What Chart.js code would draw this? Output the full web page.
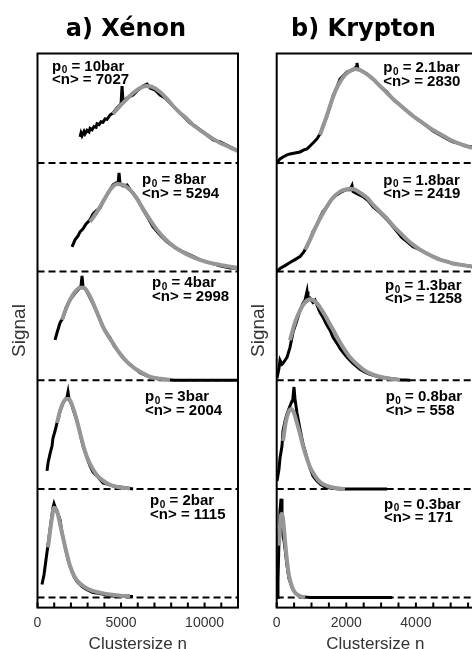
<!DOCTYPE html>
<html><head><meta charset="utf-8">
<script src="https://cdn.jsdelivr.net/npm/chart.js@4.4.1/dist/chart.umd.min.js"></script>
<style>
html,body{margin:0;padding:0;background:#fff;overflow:hidden;width:472px;height:649px;}
#wrap{position:relative;width:472px;height:649px;overflow:hidden;background:#fff;}
canvas{position:absolute;top:0;}
#cXe{left:0;} #cKr{left:240px;}
</style></head><body><div id="wrap"><canvas id="cXe" width="252" height="660"></canvas><canvas id="cKr" width="247" height="660"></canvas></div>
<script>
// ---------- categories / labels ----------
const xePressures = ['10bar', '8bar', '4bar', '3bar', '2bar'];
const xeMeans = [7027, 5294, 2998, 2004, 1115];
const krPressures = ['2.1bar', '1.8bar', '1.3bar', '0.8bar', '0.3bar'];
const krMeans = [2830, 2419, 1258, 558, 171];
const xeTickLabels = [0, 5000, 10000];
const krTickLabels = [0, 2000, 4000];
const xeTickMarks = [0, 1000, 2000, 3000, 4000, 5000, 6000, 7000, 8000, 9000, 10000, 11000, 12000];
const krTickMarks = [0, 500, 1000, 1500, 2000, 2500, 3000, 3500, 4000, 4500, 5000, 5500];

// ---------- Xenon series: [clustersize n, signal] ----------
const xe10Raw = [[2545,0.239],[2605,0.275],[2665,0.250],[2784,0.290],[2844,0.268],[2964,0.300],[3084,0.285],[3144,0.318],[3263,0.305],[3383,0.335],[3503,0.328],[3563,0.360],[3683,0.352],[3803,0.380],[3922,0.375],[4042,0.405],[4162,0.402],[4341,0.441],[4521,0.460],[4760,0.506],[5000,0.543],[5060,0.708],[5120,0.561],[5359,0.598],[5719,0.625],[6018,0.671],[6317,0.708],[6557,0.726],[6737,0.690],[7036,0.671],[7335,0.625],[7635,0.598],[7934,0.552],[8234,0.506],[8533,0.460],[8832,0.414],[9132,0.368],[9431,0.340],[9731,0.303],[10150,0.257],[10509,0.211],[10928,0.193],[11287,0.166],[11647,0.138],[12000,0.110]];
const xe10Fit = [[4521,0.451],[4940,0.524],[5359,0.589],[5719,0.644],[6138,0.690],[6497,0.708],[6856,0.699],[7335,0.653],[7754,0.589],[8114,0.524],[8533,0.460],[8952,0.405],[9311,0.349],[9731,0.303],[10150,0.257],[10509,0.221],[10928,0.184],[11347,0.156],[11707,0.129],[12000,0.110]];
const xe8Raw = [[2066,0.228],[2246,0.292],[2425,0.329],[2545,0.366],[2725,0.393],[2904,0.439],[3144,0.476],[3323,0.531],[3503,0.559],[3743,0.586],[3982,0.660],[4162,0.706],[4341,0.752],[4521,0.798],[4701,0.816],[4820,0.807],[4880,0.908],[4940,0.807],[5120,0.789],[5359,0.798],[5539,0.752],[5719,0.724],[6018,0.660],[6317,0.568],[6617,0.494],[6916,0.412],[7335,0.338],[7754,0.274],[8234,0.219],[8713,0.182],[9251,0.145],[9731,0.108],[10329,0.080],[10928,0.053],[11527,0.034],[12000,0.034]];
const xe8Fit = [[3144,0.457],[3563,0.549],[3982,0.660],[4341,0.752],[4760,0.807],[5120,0.798],[5539,0.752],[5958,0.669],[6317,0.577],[6737,0.476],[7156,0.384],[7635,0.301],[8114,0.237],[8653,0.182],[9132,0.145],[9731,0.108],[10329,0.080],[10928,0.062],[11527,0.044],[12000,0.034]];
const xe4Raw = [[1048,0.372],[1168,0.437],[1347,0.529],[1527,0.575],[1707,0.667],[1946,0.740],[2126,0.777],[2305,0.814],[2485,0.841],[2605,0.869],[2665,0.961],[2725,0.860],[2904,0.832],[3144,0.759],[3383,0.685],[3563,0.621],[3743,0.556],[3922,0.492],[4162,0.428],[4341,0.391],[4581,0.317],[4760,0.280],[5060,0.216],[5359,0.170],[5719,0.124],[6138,0.069],[6557,0.041],[6916,0.023],[7335,0.009],[8234,0],[9731,0],[12000,0]];
const xe4Fit = [[1467,0.556],[1707,0.657],[1946,0.740],[2246,0.814],[2545,0.851],[2784,0.851],[3024,0.805],[3323,0.713],[3623,0.602],[3922,0.492],[4222,0.409],[4581,0.326],[4940,0.244],[5359,0.170],[5778,0.115],[6257,0.069],[6737,0.032],[7335,0.014],[7934,0.005]];
const xe3Raw = [[569,0.166],[629,0.239],[749,0.322],[868,0.395],[928,0.469],[1048,0.533],[1168,0.607],[1287,0.671],[1347,0.717],[1467,0.763],[1527,0.791],[1647,0.818],[1766,0.846],[1826,0.892],[1886,0.828],[1946,0.809],[2066,0.772],[2126,0.736],[2246,0.680],[2365,0.625],[2545,0.515],[2725,0.395],[2964,0.285],[3144,0.212],[3323,0.156],[3563,0.120],[3922,0.055],[4521,0.028],[5359,0.009],[5719,0]];
const xe3Fit = [[1168,0.607],[1347,0.717],[1527,0.791],[1707,0.828],[1886,0.828],[2066,0.772],[2246,0.690],[2425,0.589],[2605,0.478],[2784,0.377],[2964,0.294],[3204,0.212],[3503,0.138],[3862,0.083],[4341,0.037],[4940,0.014],[5539,0.005]];
const xe2Raw = [[269,0.120],[389,0.211],[509,0.349],[629,0.487],[749,0.625],[868,0.763],[928,0.828],[988,0.864],[1048,0.837],[1168,0.791],[1347,0.717],[1467,0.598],[1647,0.469],[1826,0.349],[1946,0.285],[2186,0.193],[2365,0.147],[2665,0.101],[2964,0.074],[3323,0.046],[3743,0.037],[4341,0.018],[4940,0.009],[5719,0.009]];
const xe2Fit = [[629,0.460],[749,0.607],[868,0.736],[988,0.828],[1108,0.818],[1228,0.763],[1347,0.680],[1527,0.552],[1707,0.432],[1946,0.294],[2186,0.202],[2425,0.147],[2784,0.101],[3263,0.064],[3743,0.046],[4341,0.028],[4940,0.018],[5539,0.014]];

// ---------- Krypton series ----------
const kr21Raw = [[0,0],[95,0.037],[181,0.055],[296,0.074],[382,0.083],[526,0.092],[670,0.101],[784,0.120],[871,0.129],[957,0.156],[1043,0.184],[1158,0.221],[1244,0.267],[1330,0.340],[1445,0.432],[1532,0.524],[1618,0.616],[1733,0.699],[1819,0.772],[1934,0.809],[2020,0.837],[2106,0.846],[2193,0.855],[2279,0.883],[2307,0.920],[2336,0.864],[2451,0.846],[2595,0.818],[2767,0.772],[2968,0.708],[3170,0.653],[3342,0.589],[3543,0.533],[3744,0.478],[3917,0.432],[4118,0.386],[4319,0.340],[4491,0.294],[4693,0.257],[4894,0.221],[5066,0.193],[5267,0.175],[5440,0.156],[5612,0.147]];
const kr21Fit = [[1244,0.257],[1388,0.386],[1532,0.524],[1675,0.653],[1819,0.745],[1963,0.809],[2106,0.846],[2250,0.864],[2394,0.855],[2595,0.818],[2767,0.772],[2968,0.708],[3170,0.644],[3342,0.589],[3543,0.533],[3744,0.478],[3917,0.432],[4118,0.386],[4319,0.340],[4491,0.303],[4693,0.267],[4894,0.230],[5066,0.202],[5267,0.175],[5440,0.156],[5612,0.138]];
const kr18Raw = [[0,0],[95,0.028],[239,0.055],[382,0.083],[526,0.110],[670,0.138],[784,0.184],[871,0.230],[957,0.294],[1043,0.368],[1158,0.432],[1244,0.497],[1330,0.552],[1445,0.598],[1532,0.644],[1618,0.680],[1733,0.708],[1819,0.726],[1934,0.745],[2020,0.754],[2106,0.754],[2164,0.791],[2193,0.736],[2307,0.717],[2480,0.690],[2624,0.653],[2767,0.598],[2968,0.543],[3170,0.478],[3313,0.423],[3457,0.368],[3601,0.313],[3744,0.276],[3917,0.230],[4118,0.202],[4319,0.166],[4491,0.138],[4693,0.110],[4894,0.092],[5066,0.074],[5267,0.064],[5440,0.055],[5612,0.046]];
const kr18Fit = [[813,0.202],[957,0.294],[1101,0.395],[1244,0.487],[1388,0.570],[1532,0.644],[1675,0.699],[1819,0.736],[1963,0.754],[2106,0.763],[2250,0.754],[2394,0.726],[2595,0.680],[2767,0.616],[2968,0.552],[3170,0.487],[3342,0.423],[3543,0.359],[3744,0.294],[3917,0.248],[4118,0.202],[4319,0.166],[4491,0.138],[4693,0.110],[4894,0.092],[5066,0.074],[5267,0.064],[5440,0.055],[5612,0.046]];
const kr13Raw = [[9,0.018],[66,0.110],[95,0.184],[152,0.147],[181,0.156],[239,0.184],[296,0.211],[382,0.303],[468,0.441],[583,0.552],[670,0.644],[756,0.708],[813,0.736],[871,0.818],[899,0.736],[957,0.754],[1043,0.717],[1101,0.736],[1158,0.690],[1244,0.625],[1330,0.579],[1445,0.506],[1532,0.460],[1618,0.395],[1733,0.340],[1819,0.294],[1905,0.257],[2020,0.211],[2193,0.156],[2394,0.101],[2537,0.074],[2681,0.055],[2968,0.028],[3342,0.014],[3543,0.005],[3830,0]];
const kr13Fit = [[382,0.368],[526,0.533],[670,0.644],[813,0.717],[957,0.745],[1101,0.726],[1244,0.671],[1388,0.598],[1532,0.515],[1675,0.432],[1819,0.349],[1963,0.276],[2106,0.211],[2307,0.147],[2480,0.101],[2681,0.064],[2968,0.032],[3256,0.014],[3543,0.005]];
const kr08Raw = [[9,0.074],[66,0.184],[95,0.285],[152,0.395],[181,0.533],[239,0.625],[296,0.690],[382,0.763],[440,0.809],[468,0.846],[497,0.938],[526,0.828],[583,0.699],[670,0.552],[756,0.414],[871,0.285],[957,0.193],[1043,0.120],[1158,0.074],[1244,0.046],[1388,0.018],[1532,0.009],[1819,0],[3170,0]];
const kr08Fit = [[181,0.441],[267,0.625],[353,0.717],[411,0.736],[497,0.699],[583,0.607],[670,0.506],[756,0.395],[871,0.276],[957,0.202],[1101,0.120],[1244,0.064],[1445,0.028],[1675,0.009],[1963,0]];
const kr03Raw = [[9,0],[37,0.156],[66,0.524],[95,0.800],[124,0.910],[152,0.708],[181,0.570],[210,0.524],[239,0.451],[296,0.294],[353,0.175],[440,0.092],[526,0.046],[670,0.009],[957,0],[3313,0]];
const kr03Fit = [[66,0.478],[95,0.662],[124,0.754],[152,0.772],[181,0.726],[210,0.634],[239,0.524],[296,0.340],[353,0.202],[440,0.101],[526,0.046],[670,0.014],[813,0]];

// ---------- layout (label anchors in data units) ----------
const xeLabelPos = [[868,4.886],[6257,3.844],[6856,2.894],[6437,1.846],[6737,0.886]];
const krLabelPos = [[3063,4.871],[3063,3.837],[3112,2.869],[3132,1.846],[3083,0.855]];

const xePanels = [[xe10Raw, xe10Fit], [xe8Raw, xe8Fit], [xe4Raw, xe4Fit], [xe3Raw, xe3Fit], [xe2Raw, xe2Fit]];
const krPanels = [[kr21Raw, kr21Fit], [kr18Raw, kr18Fit], [kr13Raw, kr13Fit], [kr08Raw, kr08Fit], [kr03Raw, kr03Fit]];

function buildDatasets(panels, frameMax) {
  const ds = [];
  const nP = panels.length;
  panels.forEach(([raw, fit], i) => {
    const off = nP - 1 - i;
    ds.push({ data: fit.map(([n, s]) => ({ x: n, y: s + off })), borderColor: 'rgb(150,150,150)', borderWidth: 4, order: 0, cubicInterpolationMode: 'monotone' });
    ds.push({ data: raw.map(([n, s]) => ({ x: n, y: s + off })), borderColor: '#000', borderWidth: 3, order: 1 });
    ds.push({ data: [{ x: 0, y: off }, { x: frameMax, y: off }], borderColor: '#000', borderWidth: 2, borderDash: [7, 4], order: 2 });
  });
  ds.forEach(d => { d.showLine = true; d.pointRadius = 0; d.fill = false; });
  return ds;
}

function buildLabels(pressures, means, pos) {
  return pressures.map((p, i) => ({ n: pos[i][0], s: pos[i][1], pressure: p, line2: '<n> = ' + means[i] }));
}

const panelPlugin = {
  id: 'panelDeco',
  afterDatasetsDraw(chart, args, o) {
    const { ctx, chartArea: ca, scales: { x, y } } = chart;
    const x0 = x.getPixelForValue(0), x1 = x.getPixelForValue(o.frameMax);
    ctx.save();
    ctx.strokeStyle = '#000';
    ctx.lineWidth = 2;
    ctx.strokeRect(x0, ca.top, x1 - x0, ca.bottom - ca.top);
    ctx.beginPath();
    x.ticks.forEach(t => {
      const px = x.getPixelForValue(t.value);
      ctx.moveTo(px, ca.bottom);
      ctx.lineTo(px, ca.bottom - 5);
    });
    ctx.stroke();
    ctx.fillStyle = '#000';
    ctx.textAlign = 'left';
    ctx.textBaseline = 'middle';
    const big = 'bold 15px "Liberation Sans", Arial, sans-serif';
    const small = 'bold 10px "Liberation Sans", Arial, sans-serif';
    o.labels.forEach(l => {
      const px = x.getPixelForValue(l.n), py = y.getPixelForValue(l.s);
      ctx.font = big;
      ctx.fillText('p', px, py);
      let cx = px + ctx.measureText('p').width;
      ctx.font = small;
      ctx.fillText('0', cx + 0.5, py + 4);
      cx += ctx.measureText('0').width + 0.5;
      ctx.font = big;
      ctx.fillText(' = ' + l.pressure, cx, py);
      ctx.fillText(l.line2, px, py + o.lineGap);
    });
    ctx.restore();
  }
};

function makeChart(id, title, panels, xMax, tickMarks, tickLabels, labels, pad, yPad, yLine) {
  return new Chart(document.getElementById(id), {
    type: 'scatter',
    data: { datasets: buildDatasets(panels, xMax) },
    options: {
      responsive: false,
      animation: false,
      devicePixelRatio: 1,
      layout: { padding: { left: pad, right: pad, top: 0, bottom: 6.8 } },
      plugins: {
        legend: { display: false },
        tooltip: { enabled: false },
        title: { display: true, text: title, color: '#000', font: { family: 'DejaVu Sans', size: 24, weight: 'bold', lineHeight: 1.2 }, padding: { top: 15.1, bottom: 9.6 } },
        panelDeco: { frameMax: xMax, labels: labels, lineGap: 13.5 }
      },
      scales: {
        x: {
          type: 'linear', min: 0, max: xMax,
          grid: { display: false, drawTicks: false }, border: { display: false },
          afterBuildTicks: s => { s.ticks = tickMarks.map(v => ({ value: v })); },
          afterFit: s => { s.paddingLeft = 0; s.paddingRight = 0; },
          ticks: { autoSkip: false, maxRotation: 0, padding: 6.9, color: '#333',
            font: { family: 'Liberation Sans', size: 14 },
            callback: v => tickLabels.includes(v) ? String(v) : '' },
          title: { display: true, text: 'Clustersize n', color: '#333', font: { family: 'Liberation Sans', size: 17, lineHeight: 0.7 }, padding: { top: 0, bottom: 3.1 } }
        },
        y: {
          type: 'linear', min: -0.092, max: 5.007,
          grid: { display: false, drawTicks: false }, border: { display: false },
          ticks: { display: false },
          title: { display: true, text: 'Signal', color: '#333', font: { family: 'Liberation Sans', size: 19, lineHeight: yLine }, padding: yPad }
        }
      }
    },
    plugins: [panelPlugin]
  });
}

makeChart('cXe', 'a) Xénon', xePanels, 12000, xeTickMarks, xeTickLabels, buildLabels(xePressures, xeMeans, xeLabelPos), 14, { top: 0.3, bottom: 11.8 }, 0.6);
makeChart('cKr', 'b) Krypton', krPanels, 5670, krTickMarks, krTickLabels, buildLabels(krPressures, krMeans, krLabelPos), 13, { top: 0.3, bottom: 12.95 }, 0.55);
</script></body></html>
